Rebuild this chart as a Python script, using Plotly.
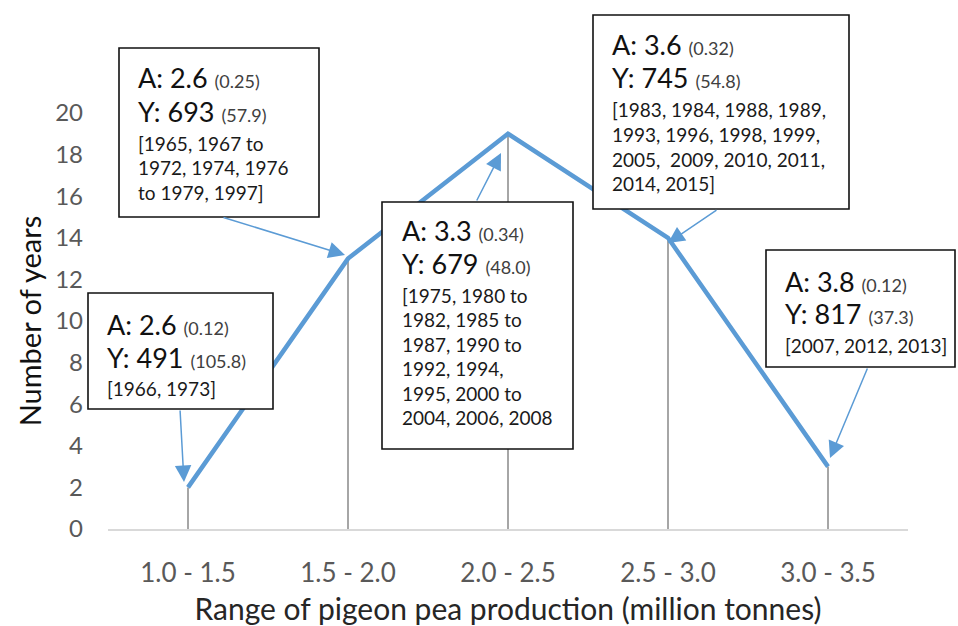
import plotly.graph_objects as go

# ---- data ----
categories = ["1.0 - 1.5", "1.5 - 2.0", "2.0 - 2.5", "2.5 - 3.0", "3.0 - 3.5"]
years_count = [2, 13, 19, 14, 3]
yticks = [0, 2, 4, 6, 8, 10, 12, 14, 16, 18, 20]

box_A = ["2.6", "2.6", "3.3", "3.6", "3.8"]
box_A_se = ["0.12", "0.25", "0.34", "0.32", "0.12"]
box_Y = ["491", "693", "679", "745", "817"]
box_Y_se = ["105.8", "57.9", "48.0", "54.8", "37.3"]
box_years = [
    ["[1966, 1973]"],
    ["[1965, 1967 to", "1972, 1974, 1976", "to 1979, 1997]"],
    ["[1975, 1980 to", "1982, 1985 to", "1987, 1990 to", "1992, 1994,",
     "1995, 2000 to", "2004, 2006, 2008"],
    ["[1983, 1984, 1988, 1989,", "1993, 1996, 1998, 1999,",
     "2005,  2009, 2010, 2011,", "2014, 2015]"],
    ["[2007, 2012, 2013]"],
]

# ---- layout geometry (pixels) ----
W, H = 958, 626
L, R, T, B = 108, 50, 113, 97
PW, PH = W - L - R, H - T - B

def px(x):
    return (x - L) / PW

def py(y):
    return (H - B - y) / PH

FONT = "Lato, Carlito, Calibri, sans-serif"
BLUE = "#5b9bd5"

fig = go.Figure()

# drop lines from each point to the axis
dx, dy = [], []
for c, v in zip(categories, years_count):
    dx += [c, c, None]
    dy += [0, v, None]
fig.add_trace(go.Scatter(x=dx, y=dy, mode="lines",
                         line=dict(color="#a6a6a6", width=2),
                         hoverinfo="skip", showlegend=False))

fig.add_trace(go.Scatter(x=categories, y=years_count, mode="lines",
                         line=dict(color=BLUE, width=4.5),
                         showlegend=False))

# boxes: (left, top, right, bottom), text left x, line centres
boxes = [
    dict(rect=(88, 293, 273, 409), tx=105, l1=324, l2=357, yr0=388),
    dict(rect=(119, 48, 319, 217), tx=136, l1=77, l2=111, yr0=143),
    dict(rect=(382, 202, 573, 449), tx=400, l1=230, l2=263, yr0=295),
    dict(rect=(593, 15, 849, 209), tx=610, l1=45, l2=78, yr0=110),
    dict(rect=(766, 250, 955, 367), tx=783, l1=281, l2=313, yr0=345),
]
# arrows: tail (x, y) -> tip (x, y)
arrows = [
    ((180, 409), (184, 482)),
    ((222, 217), (345, 255)),
    ((476, 202), (501, 153)),
    ((718, 209), (668, 243)),
    ((868, 367), (830, 458)),
]

shapes = []
annotations = []
YR_STEP = 24.5
for i, b in enumerate(boxes):
    x0, y0, x1, y1 = b["rect"]
    shapes.append(dict(type="rect", xref="paper", yref="paper",
                       x0=px(x0), x1=px(x1), y0=py(y1), y1=py(y0),
                       line=dict(color="#111111", width=1.6),
                       fillcolor="white", layer="above"))
    big = 27
    small = 18
    annotations.append(dict(
        xref="paper", yref="paper", x=px(b["tx"]), y=py(b["l1"]),
        xanchor="left", yanchor="middle", showarrow=False,
        text=f"A: {box_A[i]} <span style='font-size:{small}px;color:#404040'>({box_A_se[i]})</span>",
        font=dict(family=FONT, size=big, color="#111111")))
    annotations.append(dict(
        xref="paper", yref="paper", x=px(b["tx"]), y=py(b["l2"]),
        xanchor="left", yanchor="middle", showarrow=False,
        text=f"Y: {box_Y[i]} <span style='font-size:{small}px;color:#404040'>({box_Y_se[i]})</span>",
        font=dict(family=FONT, size=big, color="#111111")))
    for j, line in enumerate(box_years[i]):
        annotations.append(dict(
            xref="paper", yref="paper", x=px(b["tx"]), y=py(b["yr0"] + j * YR_STEP),
            xanchor="left", yanchor="middle", showarrow=False,
            text=line, font=dict(family=FONT, size=19, color="#1a1a1a")))

for (tail, tip) in arrows:
    annotations.append(dict(
        xref="paper", yref="paper", x=px(tip[0]), y=py(tip[1]),
        ax=tail[0] - tip[0], ay=tail[1] - tip[1], axref="pixel", ayref="pixel",
        text="", showarrow=True, arrowhead=2, arrowsize=2.2,
        arrowwidth=1.5, arrowcolor=BLUE, standoff=0))

fig.update_layout(
    width=W, height=H,
    margin=dict(l=L, r=R, t=T, b=B, pad=0, autoexpand=False),
    paper_bgcolor="white", plot_bgcolor="white",
    shapes=shapes, annotations=annotations,
    xaxis=dict(
        type="category", range=[-0.5, 4.5], automargin=False,
        showgrid=False, zeroline=False,
        showline=True, linecolor="#d9d9d9", linewidth=1.5,
        ticks="", ticklabelstandoff=20,
        tickfont=dict(family=FONT, size=26, color="#595959"),
        title=dict(text="Range of pigeon pea production (million tonnes)",
                   font=dict(family=FONT, size=30, color="#262626"),
                   standoff=12),
    ),
    yaxis=dict(
        range=[0, 20], tickvals=yticks, automargin=False,
        showgrid=False, zeroline=False, showline=False,
        ticks="", ticklabelstandoff=24,
        tickfont=dict(family=FONT, size=24, color="#595959"),
        title=dict(text="Number of years",
                   font=dict(family=FONT, size=29, color="#111111"),
                   standoff=5),
    ),
)

fig.write_html("out.html",
               config={"displayModeBar": False},
               post_script="document.body.style.margin='0';"
                           "document.body.style.overflow='hidden';")
